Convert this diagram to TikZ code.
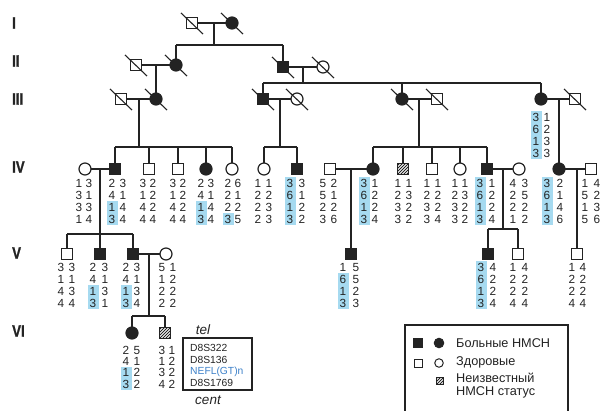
\documentclass[tikz,border=0pt]{standalone}
\usepackage{fontspec}
\setmainfont{Liberation Sans}
\newfontfamily\labfont{Liberation Sans Bold}[FakeStretch=0.8,FakeBold=1.2]
\definecolor{hl}{RGB}{166,218,240}
\definecolor{ink}{RGB}{35,35,35}
\definecolor{nefl}{RGB}{60,128,200}
\tikzset{
 sym/.style={draw=ink, line width=1.2pt, minimum size=11.5pt, inner sep=0pt, outer sep=0pt, fill=white},
 sq/.style={sym, rectangle},
 ci/.style={sym, circle, minimum size=12pt},
 aff/.style={fill=ink},
 ln/.style={draw=ink, line width=1.1pt},
 dig/.style={inner sep=0pt, font=\fontsize{11.8}{11.8}\selectfont, text=ink},
 gen/.style={font=\labfont\fontsize{16.5}{16.5}\selectfont, text=ink, inner sep=0pt, anchor=west},
 lgt/.style={font=\fontsize{12.7}{13}\selectfont, text=ink, inner sep=0pt, anchor=west, align=left},
 mk/.style={font=\fontsize{10.3}{10.3}\selectfont, text=ink, inner sep=0pt, anchor=west},
 ends/.style={font=\itshape\fontsize{13.5}{13.5}\selectfont, text=ink, inner sep=0pt, anchor=base},
}
\newcommand\dead[1]{\draw[ln] ([shift={(-11,-10)}]#1.center) -- ([shift={(11,11)}]#1.center);}
\newcommand\hatchit[1]{%
 \begin{scope}
 \clip (#1.south west) rectangle (#1.north east);
 \foreach \k in {-15,-12,...,15} \draw[ink, line width=1.0pt] ([shift={(\k-9,9)}]#1.center) -- ([shift={(\k+9,-9)}]#1.center);
 \end{scope}
 \draw[ink, line width=1.2pt] (#1.south west) rectangle (#1.north east);}
\newcommand\hap[8]{%
 \ifnum#6>0 \fill[hl] ({#2-5.5},{#4+(4-#6)*#5-6}) rectangle ({#2+5.5},{#4+3*#5+6});\fi
 \foreach \v [count=\i] in {#7} \node[dig] (#1l\i) at (#2,{#4+(\i-1)*#5}) {\v};
 \foreach \v [count=\i] in {#8} \node[dig] (#1r\i) at (#3,{#4+(\i-1)*#5}) {\v};
}
\begin{document}
\begin{tikzpicture}[x=1pt,y=-1pt]
\useasboundingbox (0,0) rectangle (601,411);
% generation labels
\node[gen] (gI) at (12,23) {I};
\node[gen] (gII) at (12,61) {II};
\node[gen] (gIII) at (12,99) {III};
\node[gen] (gIV) at (12,167) {IV};
\node[gen] (gV) at (12,253) {V};
\node[gen] (gVI) at (12,331) {VI};

% ---------- Generation I
\node[sq] (I1) at (192,23) {};
\node[ci,aff] (I2) at (232,23) {};
\draw[ln] (I1) -- (I2);
\coordinate (mI) at (214,23);
\coordinate (sIm) at (214,45);
\coordinate (sIa) at (176,45);
\coordinate (sIb) at (283,45);
\draw[ln] (mI) -- (sIm);
\draw[ln] (sIa) -- (sIb);

% ---------- Generation II
\node[sq] (II1) at (136,65) {};
\node[ci,aff] (II2) at (176,65) {};
\node[sq,aff] (II3) at (283,67) {};
\node[ci] (II4) at (323,67) {};
\draw[ln] (sIa) -- (II2);
\draw[ln] (sIb) -- (II3);
\draw[ln] (II1) -- (II2);
\draw[ln] (II3) -- (II4);
\coordinate (mII1) at (156,65);
\coordinate (mII2) at (303,67);
\coordinate (sII) at (303,83);
\coordinate (sIIa) at (263,83);
\coordinate (sIIb) at (541,83);
\coordinate (sIIc) at (402,83);
\draw[ln] (mII2) -- (sII);
\draw[ln] (sIIa) -- (sIIb);

% ---------- Generation III
\node[sq] (III1) at (121,99) {};
\node[ci,aff] (III2) at (156,99) {};
\node[sq,aff] (III3) at (263,99) {};
\node[ci] (III4) at (297,99) {};
\node[ci,aff] (III5) at (402,99) {};
\node[sq] (III6) at (437,99) {};
\node[ci,aff] (III7) at (541,99) {};
\node[sq] (III8) at (575,99) {};
\draw[ln] (mII1) -- (III2);
\draw[ln] (sIIa) -- (III3);
\draw[ln] (sIIc) -- (III5);
\draw[ln] (sIIb) -- (III7);
\draw[ln] (III1) -- (III2);
\draw[ln] (III3) -- (III4);
\draw[ln] (III5) -- (III6);
\draw[ln] (III7) -- (III8);
\hap{III7}{536}{547}{117}{12}{4}{3,6,1,3}{1,2,3,3}

% drops from III
\coordinate (mIII1) at (139,99);
\coordinate (sIII1) at (139,147);
\coordinate (mIII2) at (280,99);
\coordinate (sIII2) at (280,147);
\coordinate (mIII3) at (419,99);
\coordinate (sIII3) at (419,147);
\coordinate (mIII4) at (559,99);
\draw[ln] (mIII1) -- (sIII1);
\draw[ln] (mIII2) -- (sIII2);
\draw[ln] (mIII3) -- (sIII3);

% ---------- Generation IV
\node[ci] (IV1) at (85,169) {};
\node[sq,aff] (IV2) at (115,169) {};
\node[sq] (IV3) at (149,169) {};
\node[sq] (IV4) at (178,169) {};
\node[ci,aff] (IV5) at (206,169) {};
\node[ci] (IV6) at (232,169) {};
\node[ci] (IV7) at (264,169) {};
\node[sq,aff] (IV8) at (297,169) {};
\node[sq] (IV9) at (330,169) {};
\node[ci,aff] (IV10) at (373,169) {};
\node[sq] (IV11) at (403,169) {};
\node[sq] (IV12) at (432,169) {};
\node[ci] (IV13) at (460,169) {};
\node[sq,aff] (IV14) at (487,169) {};
\node[ci] (IV15) at (519,169) {};
\node[ci,aff] (IV16) at (559,169) {};
\node[sq] (IV17) at (591,169) {};
\hatchit{IV11}
\draw[ln] (mIII4) -- (IV16);
% sibling lines
\coordinate (sa1) at (115,147); \coordinate (sa2) at (149,147); \coordinate (sa3) at (178,147);
\coordinate (sa4) at (206,147); \coordinate (sa5) at (232,147);
\draw[ln] (sa1) -- (sa5);
\foreach \c/\n in {sa1/IV2,sa2/IV3,sa3/IV4,sa4/IV5,sa5/IV6} \draw[ln] (\c) -- (\n);
\coordinate (sb1) at (264,147); \coordinate (sb2) at (297,147);
\draw[ln] (sb1) -- (sb2);
\draw[ln] (sb1) -- (IV7);
\draw[ln] (sb2) -- (IV8);
\coordinate (sc1) at (373,147); \coordinate (sc2) at (403,147); \coordinate (sc3) at (432,147);
\coordinate (sc4) at (460,147); \coordinate (sc5) at (487,147);
\draw[ln] (sc1) -- (sc5);
\foreach \c/\n in {sc1/IV10,sc2/IV11,sc3/IV12,sc4/IV13,sc5/IV14} \draw[ln] (\c) -- (\n);
% marriages
\draw[ln] (IV1) -- (IV2);
\draw[ln] (IV9) -- (IV10);
\draw[ln] (IV14) -- (IV15);
\draw[ln] (IV16) -- (IV17);
% haplotypes IV
\hap{IV1}{79}{89}{183}{12}{0}{1,3,3,1}{3,1,3,4}
\hap{IV2}{112}{123}{183}{12}{2}{2,4,1,3}{3,1,4,4}
\hap{IV3}{143}{153}{183}{12}{0}{3,1,4,4}{2,2,2,4}
\hap{IV4}{173}{183}{183}{12}{0}{3,1,4,4}{2,2,2,4}
\hap{IV5}{201}{211}{183}{12}{2}{2,4,1,3}{3,1,4,4}
\hap{IV6}{228}{238}{183}{12}{1}{2,2,2,3}{6,1,2,5}
\hap{IV7}{258}{269}{183}{12}{0}{1,2,2,2}{1,2,3,3}
\hap{IV8}{290}{302}{183}{12}{4}{3,6,1,3}{3,1,2,2}
\hap{IV9}{323}{334}{183}{12}{0}{5,5,2,3}{2,1,2,6}
\hap{IV10}{364}{375}{183}{12}{4}{3,6,1,3}{1,2,2,4}
\hap{IV11}{398}{409}{183}{12}{0}{1,2,3,3}{1,3,2,2}
\hap{IV12}{427}{438}{183}{12}{0}{1,2,3,3}{1,2,2,4}
\hap{IV13}{455}{465}{183}{12}{0}{1,2,3,3}{1,3,2,2}
\hap{IV14}{480}{492}{183}{12}{4}{3,6,1,3}{1,2,2,4}
\hap{IV15}{513}{525}{183}{12}{0}{4,2,2,1}{3,5,2,2}
\hap{IV16}{547}{560}{183}{12}{4}{3,6,1,3}{2,1,4,6}
\hap{IV17}{585}{597}{183}{12}{0}{1,5,1,5}{4,2,3,6}

% ---------- Generation V
\node[sq] (V1) at (67,254) {};
\node[sq,aff] (V2) at (100,254) {};
\node[sq,aff] (V3) at (133,254) {};
\node[ci] (V4) at (166,254) {};
\node[sq,aff] (V5) at (351,254) {};
\node[sq,aff] (V6) at (488,254) {};
\node[sq] (V7) at (518,254) {};
\node[sq] (V8) at (577,254) {};
\coordinate (mIV1) at (100,169); \coordinate (sd2) at (100,234);
\coordinate (sd1) at (67,234); \coordinate (sd3) at (133,234);
\draw[ln] (mIV1) -- (sd2);
\draw[ln] (sd1) -- (sd3);
\draw[ln] (sd1) -- (V1);
\draw[ln] (sd2) -- (V2);
\draw[ln] (sd3) -- (V3);
\coordinate (mIV2) at (351,169);
\draw[ln] (mIV2) -- (V5);
\coordinate (mIV3) at (503,169); \coordinate (se) at (503,229);
\coordinate (se1) at (488,229); \coordinate (se2) at (518,229);
\draw[ln] (mIV3) -- (se);
\draw[ln] (se1) -- (se2);
\draw[ln] (se1) -- (V6);
\draw[ln] (se2) -- (V7);
\coordinate (mIV4) at (577,169);
\draw[ln] (mIV4) -- (V8);
\draw[ln] (V3) -- (V4);
\hap{V1}{61}{72}{267}{12}{0}{3,1,4,4}{3,1,3,4}
\hap{V2}{93}{105}{267}{12}{2}{2,4,1,3}{3,1,3,1}
\hap{V3}{126}{137}{267}{12}{2}{2,4,1,3}{3,1,3,4}
\hap{V4}{162}{173}{267}{12}{0}{5,1,2,2}{1,2,2,2}
\hap{V5}{343}{356}{267}{12}{3}{1,6,1,3}{5,5,2,3}
\hap{V6}{481}{493}{267}{12}{4}{3,6,1,3}{4,2,2,4}
\hap{V7}{513}{525}{267}{12}{0}{1,2,2,4}{4,2,2,4}
\hap{V8}{572}{583}{267}{12}{0}{1,2,2,4}{4,2,2,4}

% ---------- Generation VI
\node[ci,aff] (VI1) at (132,333) {};
\node[sq] (VI2) at (165,333) {};
\hatchit{VI2}
\coordinate (mV) at (149,254); \coordinate (sf) at (149,316);
\coordinate (sf1) at (132,316); \coordinate (sf2) at (165,316);
\draw[ln] (mV) -- (sf);
\draw[ln] (sf1) -- (sf2);
\draw[ln] (sf1) -- (VI1);
\draw[ln] (sf2) -- (VI2);
\hap{VI1}{126}{137}{350}{11.4}{2}{2,4,1,3}{5,1,2,2}
\hap{VI2}{162}{172}{350}{11.4}{0}{3,1,3,4}{1,2,2,2}

% ---------- marker box
\node[ends] (tel) at (203,334) {tel};
\draw[ink, line width=1.2pt] (183,338) rectangle (252,390);
\node[mk] (m1) at (190,347.5) {D8S322};
\node[mk] (m2) at (190,359.5) {D8S136};
\node[mk, text=nefl] (m3) at (190,371.5) {NEFL(GT)n};
\node[mk] (m4) at (190,383) {D8S1769};
\node[ends] (cent) at (208,404) {cent};

% ---------- legend
\draw[ink, line width=1.3pt] (405,411) -- (405,325) -- (568,325) -- (568,411);
\node[sq,aff,minimum size=8.5pt,line width=1pt] (L1) at (418,343) {};
\node[ci,aff,minimum size=9.5pt,line width=1pt] (L2) at (439,343) {};
\node[sq,minimum size=8pt,line width=1pt] (L3) at (418,363) {};
\node[ci,minimum size=8.5pt,line width=1pt] (L4) at (439,363) {};
\node[sq,minimum size=7pt,line width=0.8pt] (L5) at (440,381) {};
\hatchit{L5}
\node[lgt] (t1) at (456,343) {Больные НМСН};
\node[lgt] (t2) at (456,362.5) {Здоровые};
\node[lgt] (t3) at (456,386) {Неизвестный\\НМСН статус};

% deceased slashes
\foreach \n in {I1,I2,II1,II2,II3,II4,III1,III2,III3,III4,III5,III6,III8} {\dead{\n}}
\end{tikzpicture}
\end{document}
